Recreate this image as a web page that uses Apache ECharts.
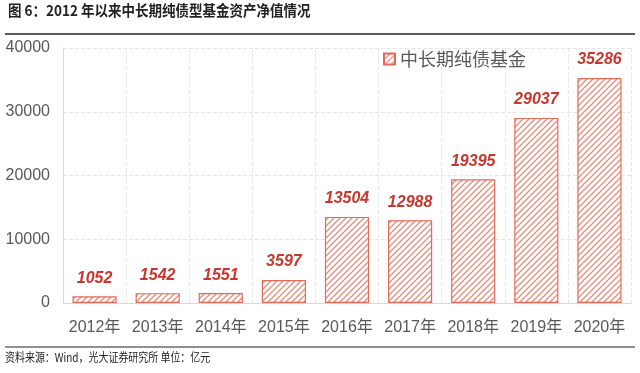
<!DOCTYPE html>
<html><head><meta charset="utf-8">
<script src="https://cdn.jsdelivr.net/npm/echarts@6/dist/echarts.min.js"></script>
<style>html,body{margin:0;padding:0;background:#fff}#c{width:640px;height:373px}</style>
</head><body><div id="c"></div>
<script>
const categories = ['2012年','2013年','2014年','2015年','2016年','2017年','2018年','2019年','2020年'];
const values = [1052,1542,1551,3597,13504,12988,19395,29037,35286];
const yTicks = [0,10000,20000,30000,40000];
const seriesName = '中长期纯债基金';

function hatch(){
  const c = document.createElement('canvas');
  c.width = 6; c.height = 6;
  const g = c.getContext('2d');
  g.fillStyle = '#fff'; g.fillRect(0,0,6,6);
  g.strokeStyle = '#ec8a78'; g.lineWidth = 1.3;
  g.beginPath();
  g.moveTo(-1,7); g.lineTo(7,-1);
  g.moveTo(-4,4); g.lineTo(4,-4);
  g.moveTo(2,10); g.lineTo(10,2);
  g.stroke();
  return c;
}
const pat = {image: hatch(), repeat: 'repeat'};
const font = '"Liberation Sans", Arial, "Noto Sans CJK SC", sans-serif';
const chart = echarts.init(document.getElementById('c'));
chart.setOption({
  animation:false,
  textStyle:{fontFamily:font},
  graphic:[
    {type:'text', x:8, y:3, scaleX:0.9, style:{text:'图 6：2012 年以来中长期纯债型基金资产净值情况', font:'bold 15px "Noto Sans CJK SC", sans-serif', fill:'#222'}},
    {type:'line', shape:{x1:5,y1:34,x2:635,y2:34}, style:{stroke:'#222', lineWidth:1.5}},
    {type:'line', shape:{x1:5,y1:347,x2:635,y2:347}, style:{stroke:'#222', lineWidth:1.2}},
    {type:'text', x:5, y:351, scaleX:0.83, style:{text:'资料来源：Wind，光大证券研究所 单位：亿元', font:'12px "Noto Sans CJK SC", sans-serif', fill:'#222'}}
  ],
  legend:{show:true, left:378, top:45, itemWidth:11, itemHeight:11, itemGap:4,
    textStyle:{fontSize:18, color:'#595959', fontFamily:'"Noto Sans CJK SC", sans-serif'},
    data:[{name:seriesName, icon:'rect'}]},
  grid:{left:63, right:9, top:48, bottom:70},
  xAxis:{type:'category', data:categories, boundaryGap:true,
    axisLine:{show:true, lineStyle:{color:'#d9d9d9'}}, axisTick:{show:false},
    axisLabel:{interval:0, fontSize:16, color:'#595959', margin:17, fontFamily:font},
    splitLine:{show:true, interval:0, lineStyle:{color:'#e6e6e6', type:'dashed'}}},
  yAxis:{type:'value', min:0, max:40000, interval:10000,
    axisLine:{show:true, lineStyle:{color:'#d9d9d9'}}, axisTick:{show:false},
    axisLabel:{fontSize:16, color:'#595959', margin:13, fontFamily:font,
      formatter:v=>yTicks.includes(v)?String(v):''},
    splitLine:{show:true, lineStyle:{color:'#e6e6e6', type:'dashed'}}},
  series:[{type:'bar', name:seriesName, data:values, barWidth:'70%',
    itemStyle:{color:pat, borderColor:'#e46a58', borderWidth:1.2},
    label:{show:true, position:'top', distance:10, fontSize:16, fontWeight:'bold', fontStyle:'italic', color:'#c8372d', fontFamily:font}}]
});
</script></body></html>
